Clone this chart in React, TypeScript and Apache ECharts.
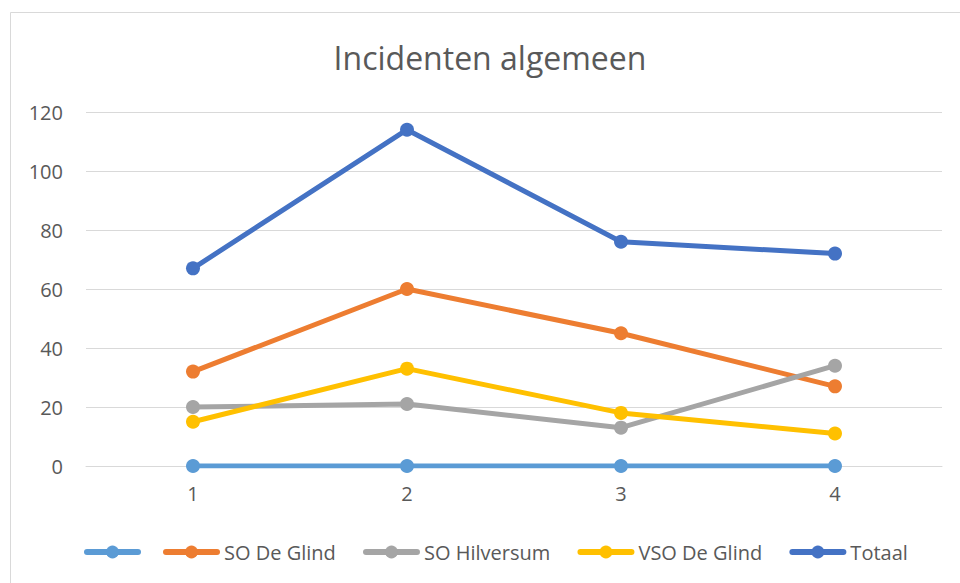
import React, { useEffect, useRef } from "react";
import * as echarts from "echarts";

const categories = ["1", "2", "3", "4"];
const seriesNames = [" ", "SO De Glind", "SO Hilversum", "VSO De Glind", "Totaal"];
const seriesColors = ["#5B9BD5", "#ED7D31", "#A5A5A5", "#FFC000", "#4472C4"];
const blankValues = [0, 0, 0, 0];
const soDeGlind = [32, 60, 45, 27];
const soHilversum = [20, 21, 13, 34];
const vsoDeGlind = [15, 33, 18, 11];
const totaal = [67, 114, 76, 72];
const seriesValues = [blankValues, soDeGlind, soHilversum, vsoDeGlind, totaal];

const FONT = "Open Sans";

export default function App() {
  const ref = useRef<HTMLDivElement>(null);
  useEffect(() => {
    if (!ref.current) return;
    const chart = echarts.init(ref.current, undefined, { renderer: "svg" });
    chart.setOption({
      animation: false,
      backgroundColor: "#fff",
      title: {
        text: "Incidenten algemeen",
        left: 485,
        textAlign: "center",
        top: 36,
        textStyle: { fontFamily: FONT, fontSize: 32, fontWeight: "normal", color: "#595959" },
      },
      graphic: [
        {
          type: "rect",
          shape: { x: 10.5, y: 12.5, width: 960, height: 600 },
          style: { fill: "none", stroke: "#D9D9D9", lineWidth: 1 },
          silent: true,
        },
      ],
      legend: {
        left: 79,
        top: 537,
        itemWidth: 51,
        itemHeight: 16,
        itemGap: 22,
        data: seriesNames,
        lineStyle: { width: 6, cap: "round" },
        formatter: (name: string) =>
          name === " " ? "" : name === "Totaal" ? name : `{n|${name}}{g| }`,
        textStyle: {
          fontFamily: FONT,
          fontSize: 20,
          color: "#595959",
          padding: [0, 0, 0, 2],
          rich: {
            n: { fontFamily: FONT, fontSize: 20, color: "#595959" },
            g: { width: 18, fontSize: 20 },
          },
        },
      },
      grid: { left: 86, right: 18, top: 112, bottom: 117 },
      xAxis: {
        type: "category",
        data: categories,
        boundaryGap: true,
        axisLine: { show: true, lineStyle: { color: "#D9D9D9", width: 1 } },
        axisTick: { show: false },
        axisLabel: { margin: 17, fontFamily: FONT, fontSize: 20, color: "#595959" },
      },
      yAxis: {
        type: "value",
        min: 0,
        max: 120,
        interval: 20,
        axisLine: { show: false },
        axisTick: { show: false },
        splitLine: { lineStyle: { color: "#D9D9D9", width: 1 } },
        axisLabel: { margin: 23, fontFamily: FONT, fontSize: 20, color: "#595959" },
      },
      series: seriesNames.map((name, i) => ({
        name,
        type: "line",
        data: seriesValues[i],
        color: seriesColors[i],
        symbol: "circle",
        symbolSize: 14,
        lineStyle: { width: 5, color: seriesColors[i], cap: "round" },
        itemStyle: { color: seriesColors[i] },
        z: i === 0 ? 1 : 2,
      })),
    });
    return () => chart.dispose();
  }, []);
  return <div ref={ref} style={{ position: "fixed", left: 0, top: 0, width: 960, height: 583 }} />;
}
